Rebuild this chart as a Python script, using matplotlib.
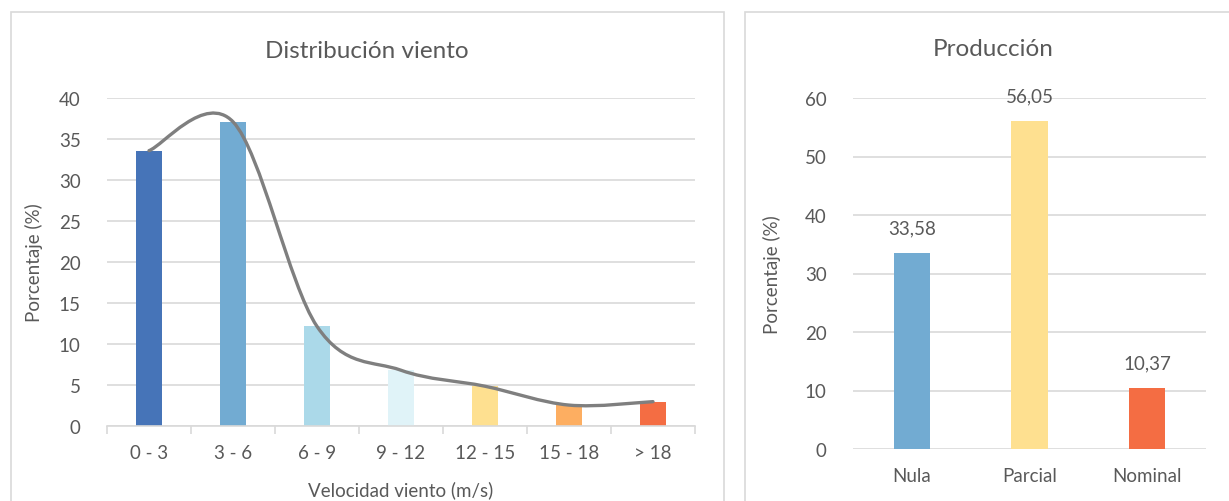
import matplotlib
matplotlib.use("Agg")
import matplotlib.pyplot as plt
from matplotlib.path import Path
from matplotlib.patches import PathPatch, Rectangle

plt.rcParams['font.family'] = ['Lato', 'DejaVu Sans']

# wind speed distribution
rangos = ['0 - 3', '3 - 6', '6 - 9', '9 - 12', '12 - 15', '15 - 18', '> 18']
porcentaje_viento = [33.58, 37.1, 12.15, 6.8, 4.85, 2.55, 2.97]
colores_viento = ['#4674B8', '#72ABD2', '#ABD9E9', '#E0F3F8', '#FEE090', '#FDAE61', '#F46D43']

# production regime
regimen = ['Nula', 'Parcial', 'Nominal']
porcentaje_prod = [33.58, 56.05, 10.37]
colores_prod = ['#72ABD2', '#FEE090', '#F46D43']

TXT = '#595959'
GRID = '#D9D9D9'
FS = 13.5

fig = plt.figure(figsize=(12.29, 5.02), dpi=100)

# chart frames
fig.add_artist(Rectangle((11 / 1229, -0.1), (724 - 11) / 1229, (502 - 13) / 502 + 0.1,
                         transform=fig.transFigure, fill=False, ec=GRID, lw=1.2))
fig.add_artist(Rectangle((745 / 1229, -0.1), 0.5, (502 - 13) / 502 + 0.1,
                         transform=fig.transFigure, fill=False, ec=GRID, lw=1.2))


def smooth_path(xs, ys):
    # Catmull-Rom style bezier through the points, like a smoothed line
    pts = list(zip(xs, ys))
    n = len(pts)
    verts = [pts[0]]
    codes = [Path.MOVETO]
    for i in range(n - 1):
        p0 = pts[max(i - 1, 0)]
        p1 = pts[i]
        p2 = pts[i + 1]
        p3 = pts[min(i + 2, n - 1)]
        c1 = (p1[0] + (p2[0] - p0[0]) / 6, p1[1] + (p2[1] - p0[1]) / 6)
        c2 = (p2[0] - (p3[0] - p1[0]) / 6, p2[1] - (p3[1] - p1[1]) / 6)
        verts += [c1, c2, p2]
        codes += [Path.CURVE4] * 3
    return Path(verts, codes)


def style(ax, ymax, step):
    ax.set_ylim(0, ymax)
    ax.set_yticks(range(0, ymax + 1, step))
    ax.yaxis.grid(True, color=GRID, lw=1.2)
    ax.set_axisbelow(True)
    for s in ax.spines.values():
        s.set_visible(False)
    ax.tick_params(axis='y', length=0, pad=19, labelsize=FS, labelcolor=TXT)


# left chart
ax1 = fig.add_axes([107 / 1229, 75 / 502, 588 / 1229, 328 / 502])
x1 = range(len(rangos))
ax1.bar(x1, porcentaje_viento, width=0.32, color=colores_viento, zorder=2)
ax1.add_patch(PathPatch(smooth_path(list(x1), porcentaje_viento), fill=False,
                        ec='#7F7F7F', lw=2.4, zorder=3, capstyle='round'))
ax1.set_xlim(-0.5, len(rangos) - 0.5)
style(ax1, 40, 5)
ax1.spines['bottom'].set_visible(True)
ax1.spines['bottom'].set_color(GRID)
ax1.spines['bottom'].set_linewidth(1.2)
ax1.set_xticks(list(x1))
ax1.set_xticklabels(rangos)
ax1.set_xticks([i - 0.5 for i in range(len(rangos) + 1)], minor=True)
ax1.tick_params(axis='x', which='major', length=0, pad=13, labelsize=FS, labelcolor=TXT)
ax1.tick_params(axis='x', which='minor', length=6, width=1.2, color=GRID)
ax1.set_ylabel('Porcentaje (%)', fontsize=FS, color=TXT, labelpad=11)
ax1.set_xlabel('Velocidad viento (m/s)', fontsize=FS, color=TXT, labelpad=14)
fig.text(367 / 1229, 1 - 52 / 502, 'Distribución viento', fontsize=17.5, color=TXT,
         ha='center', va='center')

# right chart
ax2 = fig.add_axes([853 / 1229, 52 / 502, 353 / 1229, 351 / 502])
x2 = range(len(regimen))
bars = ax2.bar(x2, porcentaje_prod, width=0.31, color=colores_prod, zorder=2)
ax2.set_xlim(-0.5, len(regimen) - 0.5)
style(ax2, 60, 10)
ax2.set_xticks(list(x2))
ax2.set_xticklabels(regimen)
ax2.tick_params(axis='x', length=0, pad=13, labelsize=FS, labelcolor=TXT)
for b, v in zip(bars, porcentaje_prod):
    ax2.annotate(f'{v:.2f}'.replace('.', ','), (b.get_x() + b.get_width() / 2, v),
                 xytext=(0, 18), textcoords='offset points', ha='center', va='center',
                 fontsize=FS, color=TXT)
ax2.set_ylabel('Porcentaje (%)', fontsize=FS, color=TXT, labelpad=17)
fig.text(993 / 1229, 1 - 50 / 502, 'Producción', fontsize=17.5, color=TXT,
         ha='center', va='center')

fig.savefig('out.png', dpi=100)
